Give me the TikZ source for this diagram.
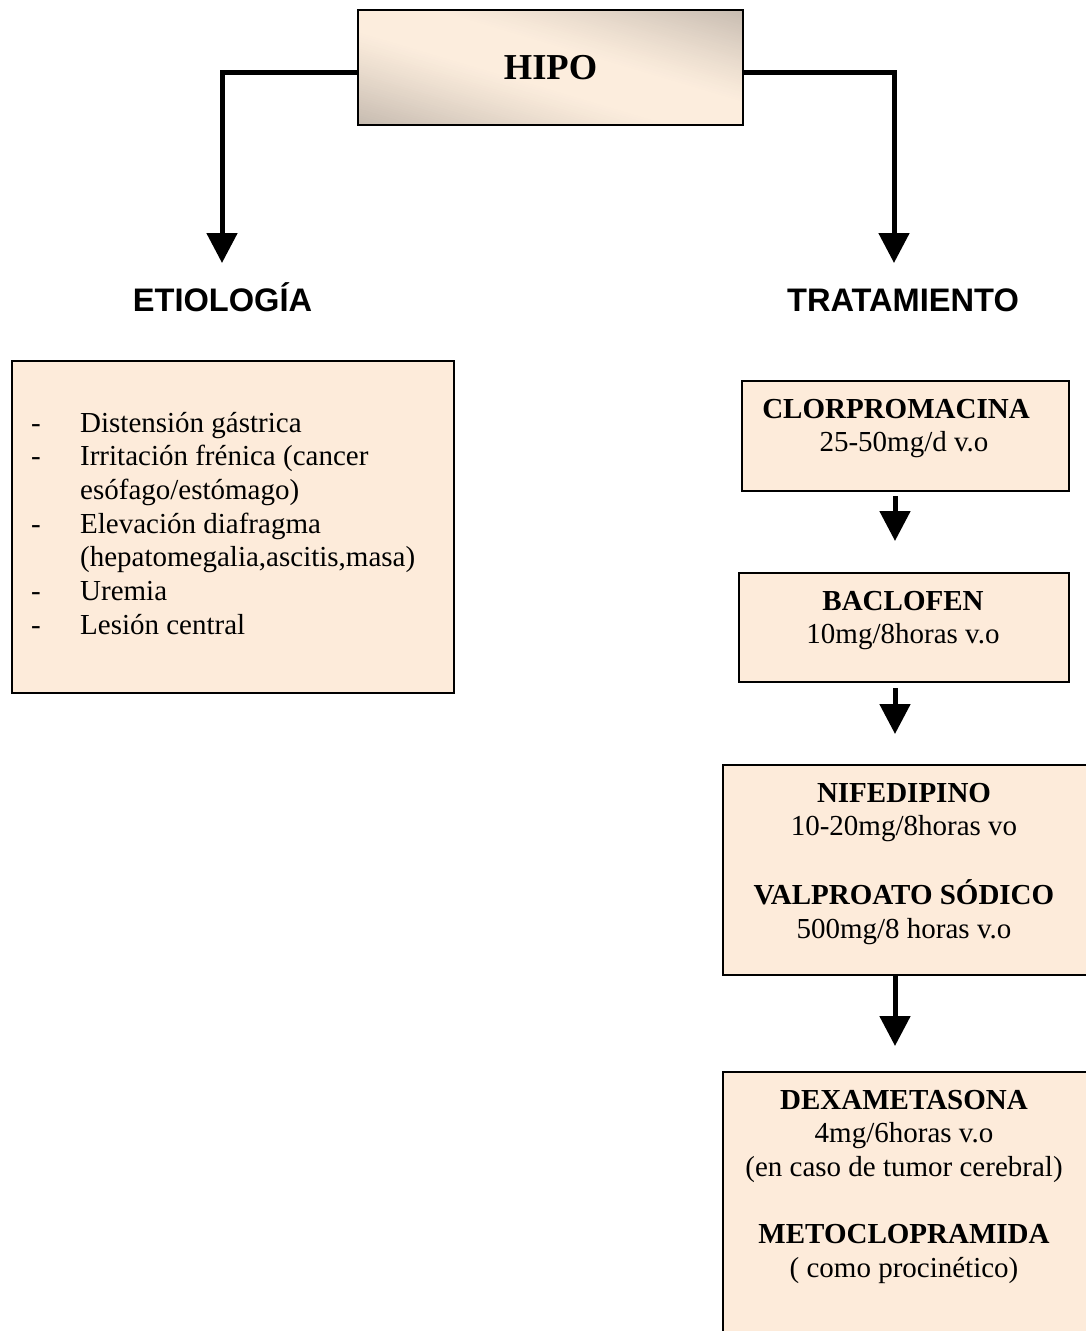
\documentclass[tikz,border=0pt]{standalone}
\usepackage{fontspec}
\setmainfont{Liberation Serif}
\newfontfamily\headsans{Liberation Sans}
\usetikzlibrary{arrows.meta}

\definecolor{peach}{RGB}{253,235,218}
\definecolor{tanshade}{RGB}{198,187,176}
\definecolor{cream}{RGB}{252,237,221}

\begin{document}
\begin{tikzpicture}[x=1pt,y=-1pt,
  box/.style={draw=black,line width=2pt,fill=peach,rectangle,inner sep=0pt,anchor=north west},
  title/.style={draw=black,line width=2pt,rectangle,inner sep=0pt,anchor=north west,
    font=\fontsize{36.5}{42}\selectfont\bfseries},
  body/.style={font=\fontsize{29}{33.7}\selectfont,inner sep=0pt,anchor=base},
  heading/.style={font=\headsans\bfseries\fontsize{32.6}{38}\selectfont,inner sep=0pt,anchor=base},
  link/.style={line width=5pt,-{Triangle[length=30pt,width=30pt]}},
]
\useasboundingbox (0,0) rectangle (1085,1331);

% top box: diagonal gradient, dark towards the lower-left and upper-right corners
\begin{scope}
  \clip (357,9) rectangle (742,124);
  \foreach \i in {0,...,99} {
    \pgfmathsetmacro\c{-1+\i/50}
    \pgfmathsetmacro\cc{\c+1/50*1.4}
    \pgfmathsetmacro\p{100*min(1,max(0,(abs(\c+0.01)-0.18)/0.82))^1.2}
    \fill[tanshade!\p!cream] (357+385*\c,9) -- (357+385*\cc,9)
      -- (357+385*\cc+385,124) -- (357+385*\c+385,124) -- cycle;
  }
\end{scope}
\node[title,minimum width=385pt,minimum height=115pt] (hipo) at (357,9) {HIPO};

% column headings
\node[heading] (etio) at (222.5,311) {ETIOLOGÍA};
\node[heading] (trat) at (903,311) {TRATAMIENTO};

% branches from the top box
\coordinate (ljoin) at (222,72);
\coordinate (ltip) at (222,263);
\coordinate (rjoin) at (894,72);
\coordinate (rtip) at (894,263);
\draw[link] (ljoin -| hipo.west) -- (ljoin) -- (ltip);
\draw[link] (rjoin -| hipo.east) -- (rjoin) -- (rtip);

% causes
\node[box,minimum width=442pt,minimum height=332pt] (causes) at (11,360) {};
\node[body,anchor=base west] (causelist) at (31,432) {\begin{tabular}[t]{@{}p{49pt}@{}l@{}}
-& Distensión gástrica\\
-& Irritación frénica (cancer\\
 & esófago/estómago)\\
-& Elevación diafragma\\
 & (hepatomegalia,ascitis,masa)\\
-& Uremia\\
-& Lesión central
\end{tabular}};

% treatment steps
\node[box,minimum width=327pt,minimum height=110pt] (step1) at (741,380) {};
\node[body] (step1txt) at (904,418) {\begin{tabular}[t]{@{}c@{}}
\textbf{CLORPROMACINA}\hspace*{16pt}\\
25-50mg/d v.o
\end{tabular}};

\node[box,minimum width=330pt,minimum height=109pt] (step2) at (738,572) {};
\node[body] (step2txt) at (903,610) {\begin{tabular}[t]{@{}c@{}}
\textbf{BACLOFEN}\\
10mg/8horas v.o
\end{tabular}};

\node[box,minimum width=366pt,minimum height=210pt] (step3) at (722,764) {};
\node[body] (step3txt) at (904,802) {\begin{tabular}[t]{@{}c@{}}
\textbf{NIFEDIPINO}\\
10-20mg/8horas vo\\
\\
\textbf{VALPROATO SÓDICO}\\
500mg/8 horas v.o
\end{tabular}};

\node[box,minimum width=366pt,minimum height=330pt] (step4) at (722,1071) {};
\node[body] (step4txt) at (904,1109) {\begin{tabular}[t]{@{}c@{}}
\textbf{DEXAMETASONA}\\
4mg/6horas v.o\\
(en caso de tumor cerebral)\\
\\
\textbf{METOCLOPRAMIDA}\\
( como procinético)
\end{tabular}};

% arrows between steps
\coordinate (t1) at (895,541);
\coordinate (t2) at (895,734);
\coordinate (t3) at (895,1046);
\draw[link] ([yshift=-4pt]step1.south -| t1) -- (t1);
\draw[link] ([yshift=-5pt]step2.south -| t2) -- (t2);
\draw[link] (step3.south -| t3) -- (t3);
\end{tikzpicture}
\end{document}
